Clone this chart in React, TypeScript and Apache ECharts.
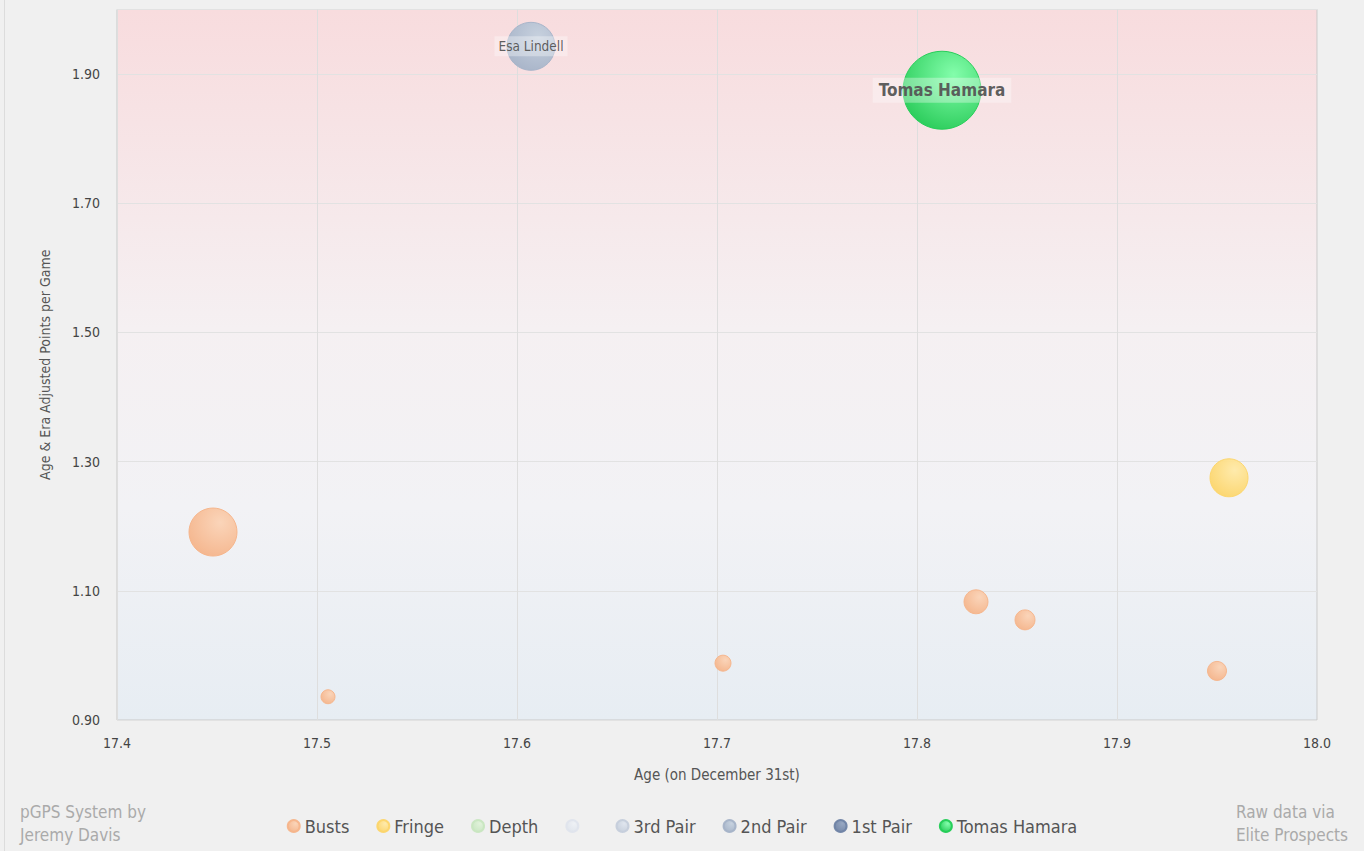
import React, { useEffect, useRef } from "react";
import * as echarts from "echarts";

const FONT = "'DejaVu Sans Condensed', 'Liberation Sans Narrow', 'DejaVu Sans', sans-serif";

const xTicks = [17.4, 17.5, 17.6, 17.7, 17.8, 17.9, 18.0];
const yTicks = [0.9, 1.1, 1.3, 1.5, 1.7, 1.9];

// [age, adjusted points per game, bubble size]
const busts: [number, number, number][] = [
  [17.448, 1.191, 48],
  [17.5055, 0.936, 14],
  [17.703, 0.988, 16],
  [17.8295, 1.083, 24],
  [17.854, 1.055, 20],
  [17.95, 0.976, 19],
];
const fringe: [number, number, number][] = [[17.956, 1.275, 38]];
const depth: [number, number, number][] = [];
const blank: [number, number, number][] = [];
const thirdPair: [number, number, number][] = [];
const secondPair: [number, number, number, string][] = [[17.607, 1.943, 48, "Esa Lindell"]];
const firstPair: [number, number, number][] = [];
const hamara: [number, number, number, string][] = [[17.8125, 1.875, 78, "Tomas Hamara"]];

const seriesNames = ["Busts", "Fringe", "Depth", " ", "3rd Pair", "2nd Pair", "1st Pair", "Tomas Hamara"];
const baseColors = ["#f5b48a", "#fcd56a", "#c8e6c0", "#dfe4ec", "#c5cedb", "#a5b3c8", "#6f83a5", "#22cc55"];
const lightColors = ["#fbd3b6", "#ffeaa8", "#e0f2da", "#eef1f5", "#dfe5ee", "#c4d0de", "#93a4c0", "#7dffa8"];
const seriesData = [busts, fringe, depth, blank, thirdPair, secondPair, firstPair, hamara];

export default function App() {
  const ref = useRef<HTMLDivElement>(null);
  useEffect(() => {
    document.body.style.margin = "0";
    document.body.style.background = "#f0f0f0";
    const chart = echarts.init(ref.current!, null, { renderer: "svg" });
    const series = seriesNames.map((name, i) => {
      const isLabeled = i === 5 || i === 7;
      return {
        name,
        type: "scatter",
        data: seriesData[i],
        symbolSize: (d: any) => d[2],
        itemStyle: {
          color: new echarts.graphic.RadialGradient(0.65, 0.3, 0.75, [
            { offset: 0, color: lightColors[i] },
            { offset: 1, color: baseColors[i] },
          ]),
          borderColor: baseColors[i],
          borderWidth: 1,
          opacity: 0.95,
        },
        label: isLabeled
          ? {
              show: true,
              position: "inside",
              formatter: (p: any) => p.data[3],
              fontFamily: FONT,
              fontSize: i === 7 ? 17 : 13.5,
              fontWeight: i === 7 ? "bold" : "normal",
              color: "#555",
              backgroundColor: "rgba(255,255,255,0.35)",
              padding: i === 7 ? [4, 6] : [3, 4],
            }
          : { show: false },
        z: i === 7 ? 5 : 3,
      };
    });
    chart.setOption({
      animation: false,
      backgroundColor: "#f0f0f0",
      grid: {
        left: 117,
        right: 47,
        top: 9.5,
        bottom: 131,
        show: true,
        borderColor: "#c8c8c8",
        borderWidth: 1,
        backgroundColor: new echarts.graphic.LinearGradient(0, 0, 0, 1, [
          { offset: 0, color: "#f8dcde" },
          { offset: 0.45, color: "#f5f0f2" },
          { offset: 0.7, color: "#f2f2f5" },
          { offset: 1, color: "#e7edf3" },
        ]),
      },
      xAxis: {
        type: "value",
        min: xTicks[0],
        max: xTicks[xTicks.length - 1],
        interval: 0.1,
        name: "Age (on December 31st)",
        nameLocation: "middle",
        nameGap: 47,
        nameTextStyle: { fontFamily: FONT, fontSize: 15, color: "#555" },
        axisLine: { show: false },
        axisTick: { show: false },
        axisLabel: {
          margin: 16,
          fontFamily: FONT,
          fontSize: 14,
          color: "#444",
          formatter: (v: number) => v.toFixed(1),
        },
        splitLine: { show: true, lineStyle: { color: "#dedede" } },
      },
      yAxis: {
        type: "value",
        min: 0.9,
        max: 2.0,
        interval: 0.2,
        name: "Age & Era Adjusted Points per Game",
        nameLocation: "middle",
        nameGap: 65,
        nameRotate: 90,
        nameTextStyle: { fontFamily: FONT, fontSize: 14, color: "#555" },
        axisLine: { show: false },
        axisTick: { show: false },
        axisLabel: {
          margin: 17,
          fontFamily: FONT,
          fontSize: 14,
          color: "#444",
          formatter: (v: number) => (yTicks.some((t) => Math.abs(t - v) < 1e-6) ? v.toFixed(2) : ""),
        },
        splitLine: { show: true, lineStyle: { color: "#e2e2e2" } },
      },
      legend: {
        data: seriesNames,
        left: "center",
        top: 812,
        icon: "circle",
        itemWidth: 12,
        itemHeight: 12,
        itemGap: 27,
        textStyle: { fontFamily: FONT, fontSize: 18, color: "#555" },
        selectedMode: false,
      },
      graphic: [
        {
          type: "line",
          shape: { x1: 4.5, y1: 0, x2: 4.5, y2: 851 },
          style: { stroke: "#dcdcdc", lineWidth: 1 },
        },
        {
          type: "text",
          left: 20,
          top: 800,
          style: {
            text: "pGPS System by\nJeremy Davis",
            fontFamily: FONT,
            fontSize: 17,
            lineHeight: 23,
            fill: "#aaa",
          },
        },
        {
          type: "text",
          right: 16,
          top: 800,
          style: {
            text: "Raw data via\nElite Prospects",
            fontFamily: FONT,
            fontSize: 17,
            lineHeight: 23,
            fill: "#aaa",
            align: "right",
          },
        },
      ],
      series,
    });
    return () => chart.dispose();
  }, []);
  return <div ref={ref} style={{ width: 1364, height: 851 }} />;
}
